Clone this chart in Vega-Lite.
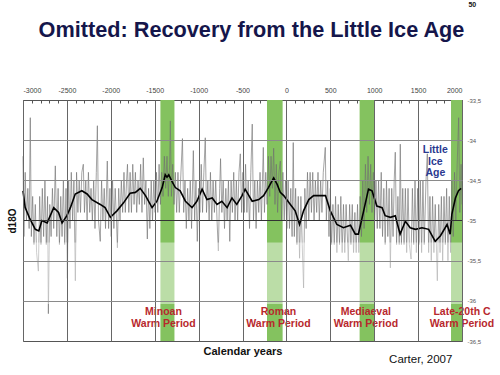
{
  "$schema": "https://vega.github.io/schema/vega-lite/v6.json",
  "width": 439,
  "height": 241,
  "autosize": {"type": "none"},
  "padding": {"left": 23, "top": 100, "right": 38, "bottom": 35},
  "background": "white",
  "title": {
    "text": "Omitted:  Recovery from the Little Ice Age",
    "font": "Liberation Sans",
    "fontSize": 21.7,
    "fontWeight": "bold",
    "color": "#15164b",
    "anchor": "middle",
    "offset": -40,
    "dx": 9
  },
  "config": {
    "view": {"stroke": "#555", "strokeWidth": 1},
    "font": "Liberation Sans"
  },
  "datasets": {
    "bands": [
      {"period": "Minoan", "start": -1435, "end": -1275},
      {"period": "Roman", "start": -221, "end": -43},
      {"period": "Mediaeval", "start": 834, "end": 1000},
      {"period": "Late-20th C", "start": 1875, "end": 2000}
    ],
    "smooth": [
      {"year": -3000, "d18O": -34.63}, {"year": -2975, "d18O": -34.84}, {"year": -2925, "d18O": -34.97},
      {"year": -2860, "d18O": -35.11}, {"year": -2820, "d18O": -35.13}, {"year": -2785, "d18O": -35.0},
      {"year": -2725, "d18O": -35.03}, {"year": -2650, "d18O": -34.84}, {"year": -2595, "d18O": -34.9},
      {"year": -2555, "d18O": -35.03}, {"year": -2500, "d18O": -34.94}, {"year": -2460, "d18O": -34.84},
      {"year": -2405, "d18O": -34.67}, {"year": -2330, "d18O": -34.63}, {"year": -2270, "d18O": -34.67},
      {"year": -2215, "d18O": -34.74}, {"year": -2120, "d18O": -34.8}, {"year": -2065, "d18O": -34.84},
      {"year": -2005, "d18O": -34.96}, {"year": -1930, "d18O": -34.88}, {"year": -1855, "d18O": -34.78},
      {"year": -1780, "d18O": -34.66}, {"year": -1720, "d18O": -34.65}, {"year": -1665, "d18O": -34.6},
      {"year": -1605, "d18O": -34.69}, {"year": -1530, "d18O": -34.84}, {"year": -1475, "d18O": -34.76},
      {"year": -1415, "d18O": -34.59}, {"year": -1380, "d18O": -34.43}, {"year": -1360, "d18O": -34.46},
      {"year": -1340, "d18O": -34.43}, {"year": -1305, "d18O": -34.51}, {"year": -1265, "d18O": -34.59},
      {"year": -1210, "d18O": -34.63}, {"year": -1150, "d18O": -34.76}, {"year": -1075, "d18O": -34.84},
      {"year": -1020, "d18O": -34.76}, {"year": -960, "d18O": -34.61}, {"year": -905, "d18O": -34.74},
      {"year": -845, "d18O": -34.72}, {"year": -790, "d18O": -34.8}, {"year": -735, "d18O": -34.76},
      {"year": -675, "d18O": -34.84}, {"year": -620, "d18O": -34.72}, {"year": -565, "d18O": -34.8},
      {"year": -505, "d18O": -34.69}, {"year": -470, "d18O": -34.61}, {"year": -390, "d18O": -34.76},
      {"year": -315, "d18O": -34.74}, {"year": -260, "d18O": -34.69}, {"year": -205, "d18O": -34.59},
      {"year": -145, "d18O": -34.47}, {"year": -105, "d18O": -34.55}, {"year": -70, "d18O": -34.65},
      {"year": -30, "d18O": -34.69}, {"year": 45, "d18O": -34.8}, {"year": 100, "d18O": -34.88},
      {"year": 150, "d18O": -35.05}, {"year": 195, "d18O": -34.88}, {"year": 255, "d18O": -34.74},
      {"year": 310, "d18O": -34.69}, {"year": 385, "d18O": -34.69}, {"year": 445, "d18O": -34.69},
      {"year": 500, "d18O": -34.88}, {"year": 575, "d18O": -35.05}, {"year": 650, "d18O": -35.09},
      {"year": 730, "d18O": -35.06}, {"year": 785, "d18O": -35.17}, {"year": 820, "d18O": -35.17},
      {"year": 880, "d18O": -34.88}, {"year": 935, "d18O": -34.61}, {"year": 975, "d18O": -34.63},
      {"year": 1030, "d18O": -34.82}, {"year": 1090, "d18O": -34.84}, {"year": 1125, "d18O": -34.94},
      {"year": 1185, "d18O": -34.96}, {"year": 1240, "d18O": -34.94}, {"year": 1295, "d18O": -35.17},
      {"year": 1355, "d18O": -35.01}, {"year": 1410, "d18O": -35.09}, {"year": 1470, "d18O": -35.11},
      {"year": 1545, "d18O": -35.09}, {"year": 1620, "d18O": -35.11}, {"year": 1695, "d18O": -35.26},
      {"year": 1755, "d18O": -35.19}, {"year": 1830, "d18O": -35.05}, {"year": 1865, "d18O": -35.17},
      {"year": 1885, "d18O": -34.92}, {"year": 1925, "d18O": -34.72}, {"year": 1960, "d18O": -34.63},
      {"year": 1990, "d18O": -34.6}
    ],
    "raw": [
      {"year": -3000, "d18O": -34.2}, {"year": -2990, "d18O": -35.2}, {"year": -2975, "d18O": -34.4},
      {"year": -2960, "d18O": -35.0}, {"year": -2945, "d18O": -34.6}, {"year": -2930, "d18O": -35.1},
      {"year": -2917, "d18O": -33.72}, {"year": -2905, "d18O": -35.2}, {"year": -2890, "d18O": -34.7},
      {"year": -2875, "d18O": -35.3}, {"year": -2860, "d18O": -34.8}, {"year": -2845, "d18O": -35.4},
      {"year": -2825, "d18O": -35.63}, {"year": -2810, "d18O": -34.7}, {"year": -2795, "d18O": -35.3},
      {"year": -2780, "d18O": -34.6}, {"year": -2765, "d18O": -35.2}, {"year": -2750, "d18O": -34.5},
      {"year": -2735, "d18O": -35.3}, {"year": -2720, "d18O": -34.7}, {"year": -2711, "d18O": -36.16},
      {"year": -2695, "d18O": -34.8}, {"year": -2680, "d18O": -35.2}, {"year": -2665, "d18O": -34.6},
      {"year": -2650, "d18O": -35.1}, {"year": -2632, "d18O": -34.32}, {"year": -2615, "d18O": -35.2},
      {"year": -2600, "d18O": -34.6}, {"year": -2585, "d18O": -35.3}, {"year": -2570, "d18O": -34.7},
      {"year": -2555, "d18O": -35.2}, {"year": -2540, "d18O": -34.5}, {"year": -2525, "d18O": -35.3},
      {"year": -2510, "d18O": -34.6}, {"year": -2495, "d18O": -35.72}, {"year": -2480, "d18O": -34.5},
      {"year": -2465, "d18O": -35.1}, {"year": -2450, "d18O": -34.4}, {"year": -2435, "d18O": -35.0},
      {"year": -2420, "d18O": -34.5}, {"year": -2404, "d18O": -35.75}, {"year": -2390, "d18O": -34.4},
      {"year": -2375, "d18O": -34.9}, {"year": -2360, "d18O": -34.5}, {"year": -2345, "d18O": -34.9},
      {"year": -2330, "d18O": -34.4}, {"year": -2313, "d18O": -34.3}, {"year": -2300, "d18O": -34.9},
      {"year": -2285, "d18O": -34.5}, {"year": -2270, "d18O": -35.0}, {"year": -2255, "d18O": -34.4},
      {"year": -2240, "d18O": -34.9}, {"year": -2225, "d18O": -34.6}, {"year": -2210, "d18O": -35.0},
      {"year": -2195, "d18O": -34.5}, {"year": -2180, "d18O": -35.1}, {"year": -2165, "d18O": -34.4},
      {"year": -2153, "d18O": -33.82}, {"year": -2140, "d18O": -35.0}, {"year": -2120, "d18O": -35.26},
      {"year": -2105, "d18O": -34.5}, {"year": -2090, "d18O": -35.0}, {"year": -2075, "d18O": -34.6},
      {"year": -2060, "d18O": -35.1}, {"year": -2040, "d18O": -34.26}, {"year": -2025, "d18O": -35.1},
      {"year": -2010, "d18O": -34.6}, {"year": -1995, "d18O": -35.2}, {"year": -1980, "d18O": -34.5},
      {"year": -1965, "d18O": -35.1}, {"year": -1950, "d18O": -34.6}, {"year": -1935, "d18O": -35.0},
      {"year": -1925, "d18O": -35.34}, {"year": -1910, "d18O": -34.6}, {"year": -1895, "d18O": -35.0},
      {"year": -1880, "d18O": -34.5}, {"year": -1865, "d18O": -34.9}, {"year": -1850, "d18O": -34.4},
      {"year": -1835, "d18O": -34.9}, {"year": -1820, "d18O": -34.5}, {"year": -1810, "d18O": -34.3},
      {"year": -1795, "d18O": -34.9}, {"year": -1780, "d18O": -34.4}, {"year": -1765, "d18O": -34.9},
      {"year": -1750, "d18O": -34.3}, {"year": -1735, "d18O": -34.8}, {"year": -1720, "d18O": -34.4},
      {"year": -1705, "d18O": -34.9}, {"year": -1690, "d18O": -34.5}, {"year": -1675, "d18O": -34.8},
      {"year": -1660, "d18O": -34.3}, {"year": -1645, "d18O": -34.9}, {"year": -1630, "d18O": -34.22},
      {"year": -1615, "d18O": -34.8}, {"year": -1600, "d18O": -34.5}, {"year": -1584, "d18O": -35.23},
      {"year": -1570, "d18O": -34.6}, {"year": -1555, "d18O": -35.1}, {"year": -1540, "d18O": -34.5},
      {"year": -1525, "d18O": -35.0}, {"year": -1510, "d18O": -34.5}, {"year": -1495, "d18O": -34.9},
      {"year": -1480, "d18O": -34.4}, {"year": -1465, "d18O": -34.9}, {"year": -1450, "d18O": -34.3},
      {"year": -1435, "d18O": -34.8}, {"year": -1420, "d18O": -34.4}, {"year": -1405, "d18O": -34.7},
      {"year": -1390, "d18O": -34.2}, {"year": -1375, "d18O": -34.6}, {"year": -1360, "d18O": -34.2},
      {"year": -1345, "d18O": -34.7}, {"year": -1330, "d18O": -34.3}, {"year": -1322, "d18O": -33.76},
      {"year": -1310, "d18O": -34.7}, {"year": -1295, "d18O": -34.3}, {"year": -1280, "d18O": -34.8},
      {"year": -1265, "d18O": -34.4}, {"year": -1250, "d18O": -34.9}, {"year": -1235, "d18O": -34.4},
      {"year": -1220, "d18O": -34.9}, {"year": -1205, "d18O": -34.5}, {"year": -1184, "d18O": -33.98},
      {"year": -1170, "d18O": -34.9}, {"year": -1155, "d18O": -34.5}, {"year": -1140, "d18O": -35.1},
      {"year": -1125, "d18O": -34.6}, {"year": -1110, "d18O": -35.0}, {"year": -1095, "d18O": -34.5},
      {"year": -1080, "d18O": -35.1}, {"year": -1060, "d18O": -34.13}, {"year": -1045, "d18O": -35.0},
      {"year": -1030, "d18O": -34.5}, {"year": -1015, "d18O": -35.26}, {"year": -1000, "d18O": -34.6},
      {"year": -985, "d18O": -34.9}, {"year": -970, "d18O": -34.3}, {"year": -955, "d18O": -34.9},
      {"year": -940, "d18O": -34.4}, {"year": -924, "d18O": -33.97}, {"year": -910, "d18O": -34.9},
      {"year": -895, "d18O": -34.5}, {"year": -880, "d18O": -35.0}, {"year": -865, "d18O": -34.4},
      {"year": -850, "d18O": -35.0}, {"year": -835, "d18O": -34.5}, {"year": -820, "d18O": -34.9},
      {"year": -805, "d18O": -34.5}, {"year": -790, "d18O": -35.0}, {"year": -775, "d18O": -35.38},
      {"year": -760, "d18O": -34.6}, {"year": -750, "d18O": -34.23}, {"year": -735, "d18O": -34.9},
      {"year": -720, "d18O": -34.5}, {"year": -705, "d18O": -35.1}, {"year": -690, "d18O": -34.6},
      {"year": -675, "d18O": -35.0}, {"year": -660, "d18O": -34.5}, {"year": -645, "d18O": -35.26},
      {"year": -630, "d18O": -34.5}, {"year": -615, "d18O": -34.9}, {"year": -600, "d18O": -34.4},
      {"year": -585, "d18O": -35.0}, {"year": -570, "d18O": -34.5}, {"year": -555, "d18O": -35.0},
      {"year": -540, "d18O": -34.4}, {"year": -525, "d18O": -34.17}, {"year": -510, "d18O": -34.9},
      {"year": -495, "d18O": -34.4}, {"year": -480, "d18O": -34.9}, {"year": -465, "d18O": -34.3},
      {"year": -450, "d18O": -34.9}, {"year": -435, "d18O": -34.5}, {"year": -420, "d18O": -35.1},
      {"year": -405, "d18O": -34.4}, {"year": -389, "d18O": -33.8}, {"year": -375, "d18O": -35.0},
      {"year": -360, "d18O": -34.5}, {"year": -345, "d18O": -35.1}, {"year": -330, "d18O": -34.5},
      {"year": -315, "d18O": -34.9}, {"year": -300, "d18O": -34.4}, {"year": -285, "d18O": -35.0},
      {"year": -263, "d18O": -34.09}, {"year": -250, "d18O": -34.9}, {"year": -235, "d18O": -34.4},
      {"year": -220, "d18O": -34.8}, {"year": -205, "d18O": -34.2}, {"year": -190, "d18O": -34.7},
      {"year": -175, "d18O": -34.2}, {"year": -160, "d18O": -34.6}, {"year": -145, "d18O": -34.1},
      {"year": -130, "d18O": -34.8}, {"year": -115, "d18O": -34.3}, {"year": -100, "d18O": -34.9},
      {"year": -85, "d18O": -34.4}, {"year": -69, "d18O": -34.26}, {"year": -55, "d18O": -35.0},
      {"year": -40, "d18O": -34.4}, {"year": -25, "d18O": -35.0}, {"year": -10, "d18O": -34.5},
      {"year": 5, "d18O": -35.1}, {"year": 20, "d18O": -34.5}, {"year": 35, "d18O": -35.1},
      {"year": 50, "d18O": -34.6}, {"year": 65, "d18O": -35.2}, {"year": 78, "d18O": -34.03},
      {"year": 90, "d18O": -35.2}, {"year": 105, "d18O": -34.6}, {"year": 120, "d18O": -35.3},
      {"year": 135, "d18O": -34.7}, {"year": 150, "d18O": -35.47}, {"year": 165, "d18O": -34.7},
      {"year": 180, "d18O": -35.3}, {"year": 196, "d18O": -35.84}, {"year": 210, "d18O": -34.6},
      {"year": 225, "d18O": -35.1}, {"year": 240, "d18O": -34.4}, {"year": 255, "d18O": -35.0},
      {"year": 270, "d18O": -34.4}, {"year": 285, "d18O": -34.9}, {"year": 300, "d18O": -34.4},
      {"year": 315, "d18O": -35.0}, {"year": 330, "d18O": -34.5}, {"year": 345, "d18O": -34.9},
      {"year": 360, "d18O": -34.4}, {"year": 375, "d18O": -35.0}, {"year": 390, "d18O": -34.5},
      {"year": 405, "d18O": -34.9}, {"year": 420, "d18O": -34.4}, {"year": 443, "d18O": -34.09},
      {"year": 455, "d18O": -35.0}, {"year": 470, "d18O": -34.5}, {"year": 485, "d18O": -35.2},
      {"year": 500, "d18O": -34.6}, {"year": 515, "d18O": -35.3}, {"year": 530, "d18O": -34.8},
      {"year": 545, "d18O": -35.3}, {"year": 560, "d18O": -34.7}, {"year": 575, "d18O": -35.4},
      {"year": 590, "d18O": -34.8}, {"year": 605, "d18O": -35.3}, {"year": 620, "d18O": -34.7},
      {"year": 635, "d18O": -35.4}, {"year": 650, "d18O": -34.8}, {"year": 665, "d18O": -35.4},
      {"year": 680, "d18O": -34.8}, {"year": 705, "d18O": -35.5}, {"year": 720, "d18O": -34.8},
      {"year": 735, "d18O": -35.3}, {"year": 750, "d18O": -34.8}, {"year": 765, "d18O": -35.4},
      {"year": 780, "d18O": -34.9}, {"year": 795, "d18O": -35.4}, {"year": 810, "d18O": -34.8},
      {"year": 825, "d18O": -35.4}, {"year": 840, "d18O": -34.7}, {"year": 855, "d18O": -35.2},
      {"year": 870, "d18O": -34.5}, {"year": 885, "d18O": -35.1}, {"year": 900, "d18O": -34.3},
      {"year": 915, "d18O": -34.9}, {"year": 930, "d18O": -34.2}, {"year": 945, "d18O": -34.8},
      {"year": 960, "d18O": -34.3}, {"year": 975, "d18O": -34.9}, {"year": 990, "d18O": -34.4},
      {"year": 1005, "d18O": -35.0}, {"year": 1020, "d18O": -34.5}, {"year": 1035, "d18O": -35.1},
      {"year": 1050, "d18O": -34.5}, {"year": 1065, "d18O": -35.1}, {"year": 1080, "d18O": -34.4},
      {"year": 1095, "d18O": -35.2}, {"year": 1110, "d18O": -34.6}, {"year": 1125, "d18O": -35.3},
      {"year": 1140, "d18O": -34.5}, {"year": 1155, "d18O": -35.2}, {"year": 1170, "d18O": -34.6},
      {"year": 1184, "d18O": -35.59}, {"year": 1200, "d18O": -34.6}, {"year": 1215, "d18O": -35.2},
      {"year": 1228, "d18O": -34.5}, {"year": 1240, "d18O": -34.15}, {"year": 1255, "d18O": -35.3},
      {"year": 1270, "d18O": -34.7}, {"year": 1285, "d18O": -35.3}, {"year": 1297, "d18O": -34.05},
      {"year": 1310, "d18O": -35.3}, {"year": 1325, "d18O": -34.6}, {"year": 1340, "d18O": -35.3},
      {"year": 1355, "d18O": -34.6}, {"year": 1370, "d18O": -35.4}, {"year": 1385, "d18O": -34.6},
      {"year": 1400, "d18O": -35.3}, {"year": 1420, "d18O": -35.48}, {"year": 1435, "d18O": -34.6},
      {"year": 1450, "d18O": -35.3}, {"year": 1465, "d18O": -34.5}, {"year": 1480, "d18O": -35.4},
      {"year": 1495, "d18O": -34.6}, {"year": 1510, "d18O": -35.3}, {"year": 1525, "d18O": -34.5},
      {"year": 1540, "d18O": -35.4}, {"year": 1555, "d18O": -34.5}, {"year": 1570, "d18O": -35.3},
      {"year": 1590, "d18O": -34.5}, {"year": 1605, "d18O": -34.17}, {"year": 1620, "d18O": -35.4},
      {"year": 1635, "d18O": -34.7}, {"year": 1650, "d18O": -35.5}, {"year": 1665, "d18O": -34.7},
      {"year": 1680, "d18O": -35.4}, {"year": 1695, "d18O": -34.8}, {"year": 1719, "d18O": -35.75},
      {"year": 1735, "d18O": -34.8}, {"year": 1750, "d18O": -35.4}, {"year": 1765, "d18O": -34.7},
      {"year": 1780, "d18O": -35.5}, {"year": 1795, "d18O": -34.7}, {"year": 1810, "d18O": -35.3},
      {"year": 1825, "d18O": -34.6}, {"year": 1840, "d18O": -35.5}, {"year": 1855, "d18O": -34.7},
      {"year": 1870, "d18O": -35.4}, {"year": 1885, "d18O": -34.5}, {"year": 1900, "d18O": -35.2},
      {"year": 1915, "d18O": -34.4}, {"year": 1930, "d18O": -35.0}, {"year": 1945, "d18O": -34.3},
      {"year": 1962, "d18O": -33.72}, {"year": 1975, "d18O": -34.9}, {"year": 1990, "d18O": -34.3},
      {"year": 2000, "d18O": -34.8}
    ],
    "periodLabels": [
      {"year": -1400, "d18O": -36.145, "label": "Minoan\nWarm Period"},
      {"year": -90, "d18O": -36.145, "label": "Roman\nWarm Period"},
      {"year": 905, "d18O": -36.145, "label": "Mediaeval\nWarm Period"},
      {"year": 2000, "d18O": -36.145, "label": "Late-20th C\nWarm Period"}
    ],
    "lia": [
      {"year": 1696, "d18O": -34.125, "label": "Little\nIce\nAge"}
    ],
    "source": [
      {"year": 1530, "d18O": -36.74, "label": "Carter, 2007"}
    ],
    "page": [
      {"year": 2117, "d18O": -32.32, "label": "50"}
    ]
  },
  "layer": [
    {
      "data": {"name": "bands"},
      "mark": {"type": "rect", "color": "#84c25f"},
      "encoding": {
        "x": {
          "field": "start", "type": "quantitative",
          "scale": {"domain": [-3000, 2000], "nice": false, "zero": false},
          "axis": {
            "orient": "top", "title": null, "grid": false, "domain": false,
            "values": [-3000,-2900,-2800,-2700,-2600,-2500,-2400,-2300,-2200,-2100,-2000,-1900,-1800,-1700,-1600,-1500,-1400,-1300,-1200,-1100,-1000,-900,-800,-700,-600,-500,-400,-300,-200,-100,0,100,200,300,400,500,600,700,800,900,1000,1100,1200,1300,1400,1500,1600,1700,1800,1900,2000],
            "labelExpr": "datum.value % 500 === 0 ? '' + datum.value : ''",
            "tickSize": -3, "tickColor": "#555", "labelPadding": 10,
            "labelFontSize": 7, "labelColor": "#444", "labelFont": "Liberation Sans"
          }
        },
        "x2": {"field": "end"},
        "y": {
          "datum": -33.5, "type": "quantitative",
          "scale": {"domain": [-36.5, -33.5], "nice": false, "zero": false},
          "axis": {
            "orient": "right", "title": null, "grid": false, "domain": false,
            "values": [-33.5, -34, -34.5, -35, -35.5, -36, -36.5],
            "labelExpr": "replace('' + datum.value, '.', ',')",
            "ticks": false, "labelPadding": 5,
            "labelFontSize": 6, "labelColor": "#555", "labelFont": "Liberation Sans"
          }
        },
        "y2": {"datum": -36.5}
      }
    },
    {
      "data": {"name": "raw"},
      "mark": {"type": "line", "color": "#707070", "strokeWidth": 0.7, "opacity": 0.9},
      "encoding": {
        "x": {"field": "year", "type": "quantitative", "scale": {"domain": [-3000, 2000], "nice": false, "zero": false}, "axis": null},
        "y": {"field": "d18O", "type": "quantitative", "scale": {"domain": [-36.5, -33.5], "nice": false, "zero": false}, "axis": null}
      }
    },
    {
      "data": {"name": "smooth"},
      "mark": {"type": "line", "color": "#000000", "strokeWidth": 1.6},
      "encoding": {
        "x": {
          "field": "year", "type": "quantitative",
          "scale": {"domain": [-3000, 2000], "nice": false, "zero": false},
          "axis": {
            "orient": "bottom", "title": "Calendar years", "grid": true, "gridColor": "#666", "gridWidth": 1,
            "values": [-3000, -2500, -2000, -1500, -1000, -500, 0, 500, 1000, 1500, 2000],
            "labels": false, "ticks": false, "domain": false, "zindex": 1,
            "titleFont": "Liberation Sans", "titleFontSize": 11, "titleFontWeight": "bold",
            "titleColor": "#111", "titlePadding": 4
          }
        },
        "y": {
          "field": "d18O", "type": "quantitative",
          "scale": {"domain": [-36.5, -33.5], "nice": false, "zero": false},
          "axis": {
            "orient": "left", "title": "d18O", "grid": true, "gridColor": "#8a8a8a", "gridWidth": 1,
            "values": [-34, -34.5, -35.5, -36],
            "labels": false, "ticks": false, "domain": false, "zindex": 1,
            "titleFont": "Liberation Sans", "titleFontSize": 10, "titleFontWeight": "bold",
            "titleColor": "#111", "titlePadding": 6
          }
        }
      }
    },
    {
      "mark": {"type": "rule", "color": "#333", "strokeWidth": 1},
      "encoding": {
        "y": {"datum": -35, "type": "quantitative", "scale": {"domain": [-36.5, -33.5], "nice": false, "zero": false}, "axis": null}
      }
    },
    {
      "mark": {"type": "rect", "color": "white", "opacity": 0.45},
      "encoding": {
        "x": {"datum": -3000, "type": "quantitative", "scale": {"domain": [-3000, 2000], "nice": false, "zero": false}, "axis": null},
        "x2": {"datum": 2000},
        "y": {"datum": -35.275, "type": "quantitative", "scale": {"domain": [-36.5, -33.5], "nice": false, "zero": false}, "axis": null},
        "y2": {"datum": -36.04}
      }
    },
    {
      "data": {"name": "periodLabels"},
      "mark": {"type": "text", "color": "#b8282d", "font": "Liberation Sans", "fontSize": 10.5, "fontWeight": "bold", "lineBreak": "\n", "lineHeight": 11.5, "align": "center", "baseline": "middle"},
      "encoding": {
        "x": {"field": "year", "type": "quantitative", "scale": {"domain": [-3000, 2000], "nice": false, "zero": false}, "axis": null},
        "y": {"field": "d18O", "type": "quantitative", "scale": {"domain": [-36.5, -33.5], "nice": false, "zero": false}, "axis": null},
        "text": {"field": "label"}
      }
    },
    {
      "data": {"name": "lia"},
      "mark": {"type": "text", "color": "#2b3990", "font": "Liberation Sans", "fontSize": 10.5, "fontWeight": "bold", "lineBreak": "\n", "lineHeight": 11.5, "align": "center", "baseline": "middle"},
      "encoding": {
        "x": {"field": "year", "type": "quantitative", "scale": {"domain": [-3000, 2000], "nice": false, "zero": false}, "axis": null},
        "y": {"field": "d18O", "type": "quantitative", "scale": {"domain": [-36.5, -33.5], "nice": false, "zero": false}, "axis": null},
        "text": {"field": "label"}
      }
    },
    {
      "data": {"name": "source"},
      "mark": {"type": "text", "color": "#111", "font": "Liberation Sans", "fontSize": 11.5, "align": "center", "baseline": "middle"},
      "encoding": {
        "x": {"field": "year", "type": "quantitative", "scale": {"domain": [-3000, 2000], "nice": false, "zero": false}, "axis": null},
        "y": {"field": "d18O", "type": "quantitative", "scale": {"domain": [-36.5, -33.5], "nice": false, "zero": false}, "axis": null},
        "text": {"field": "label"}
      }
    },
    {
      "data": {"name": "page"},
      "mark": {"type": "text", "color": "#111", "font": "Liberation Sans", "fontSize": 7, "fontWeight": "bold", "align": "center", "baseline": "middle"},
      "encoding": {
        "x": {"field": "year", "type": "quantitative", "scale": {"domain": [-3000, 2000], "nice": false, "zero": false}, "axis": null},
        "y": {"field": "d18O", "type": "quantitative", "scale": {"domain": [-36.5, -33.5], "nice": false, "zero": false}, "axis": null},
        "text": {"field": "label"}
      }
    }
  ],
  "resolve": {"axis": {"x": "independent", "y": "independent"}}
}
